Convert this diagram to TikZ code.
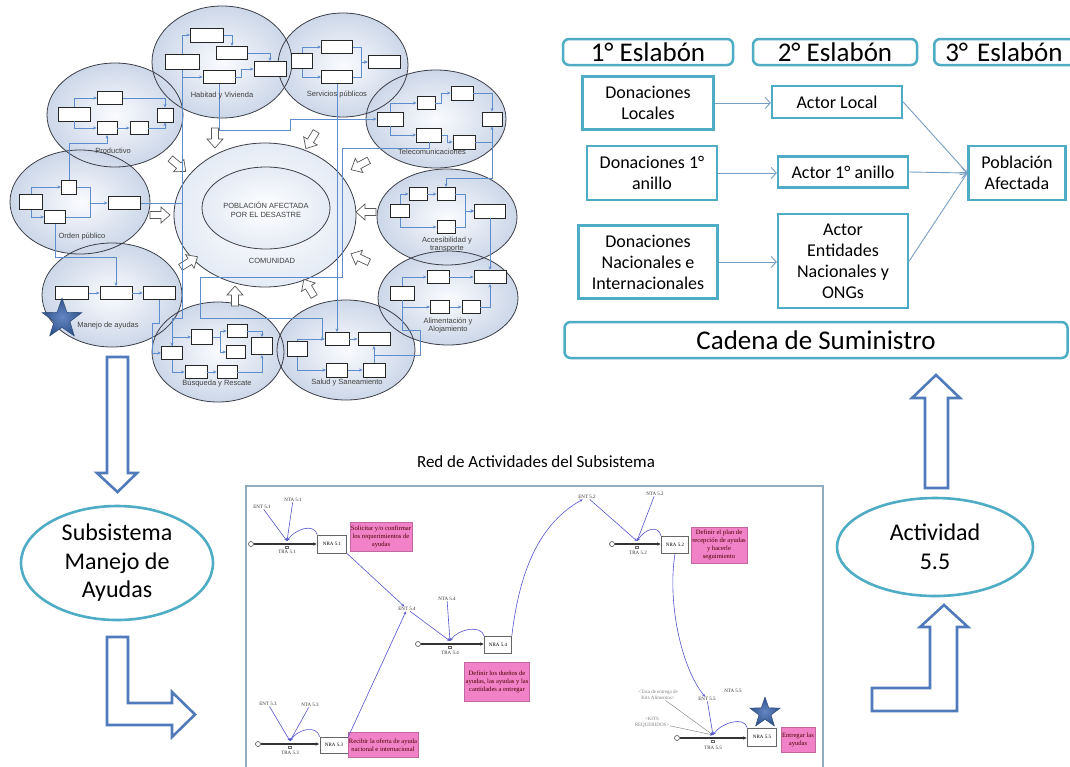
\documentclass[tikz,border=0pt]{standalone}
\usepackage{fontspec}
\setmainfont{Carlito}
\newfontfamily\arialf{Liberation Sans}
\newfontfamily\timesf{Liberation Serif}
\usetikzlibrary{shapes.geometric,arrows.meta,calc}

\definecolor{tealc}{RGB}{78,172,196}
\definecolor{blockc}{RGB}{80,122,186}
\definecolor{flowc}{RGB}{95,140,205}
\definecolor{ellin}{RGB}{250,251,254}
\definecolor{ellout}{RGB}{204,215,232}
\definecolor{ellrim}{RGB}{60,62,72}
\definecolor{scarr}{RGB}{120,158,195}
\definecolor{netblue}{RGB}{85,85,205}
\definecolor{pinkc}{RGB}{242,130,200}
\definecolor{framec}{RGB}{145,172,188}
\definecolor{starc}{RGB}{48,82,140}
\definecolor{starin}{RGB}{100,135,195}

\newcommand\fbx[5]{\node[fb, minimum width=#4pt, minimum height=#5pt] (#1) at (#2,#3) {};}
\newcommand\ellf[5]{\node[ellfill, minimum width=#4pt, minimum height=#5pt] (#1) at (#2,#3) {};}

\tikzset{
  ellfill/.style={ellipse, inner sep=0pt, outer sep=0pt, inner color=ellin, outer color=ellout},
  ellline/.style={draw=ellrim, line width=0.8pt},
  fb/.style={draw=black!85, fill=white, line width=0.9pt, inner sep=0pt},
  fl/.style={draw=flowc, line width=0.9pt, -{Stealth[length=3.5pt,width=3pt]}},
  fline/.style={draw=flowc, line width=0.9pt},
  elab/.style={font=\arialf\fontsize{7.5}{8.5}\selectfont, text=black!75, align=center, inner sep=0pt},
  harr/.pic={\draw[fill=white, draw=black!65, line width=0.7pt]
     (-10,-3.5) -- (1,-3.5) -- (1,-8) -- (10,0) -- (1,8) -- (1,3.5) -- (-10,3.5) -- cycle;},
  hdr/.style={draw=tealc, line width=2.5pt, rounded corners=6pt, fill=white, inner sep=0pt,
     minimum height=26pt, font=\fontsize{27}{30}\selectfont},
  sbox/.style={draw=tealc, line width=2.4pt, fill=white, inner sep=0pt, align=center,
     font=\fontsize{18}{21}\selectfont},
  sca/.style={draw=scarr, line width=0.9pt, -{Straight Barb[length=5pt,width=11pt]}},
  blk/.style={draw=blockc, line width=2.6pt, fill=white, line join=miter},
  bigell/.style={ellipse, draw=tealc, line width=2.6pt, inner sep=0pt, align=center,
     font=\fontsize{24}{28.5}\selectfont},
  ntxt/.style={font=\timesf\fontsize{5}{5.5}\selectfont, inner sep=0.5pt, text=black!80},
  gtxt/.style={font=\timesf\fontsize{5}{6}\selectfont, inner sep=0.5pt, text=black!50, align=center},
  nbox/.style={draw=black!60, fill=white, line width=0.6pt, inner sep=0pt,
     font=\timesf\fontsize{5}{5.5}\selectfont},
  pbox/.style={fill=pinkc, draw=pinkc!80!black, line width=0.3pt, align=center, inner sep=1pt,
     font=\timesf\fontsize{6.6}{8}\selectfont, text=black!70!red},
  nflow/.style={draw=black!80, line width=1.2pt, -{Latex[length=4pt,width=3.5pt]}},
  ninf/.style={draw=netblue, line width=0.6pt, -{Stealth[length=3pt,width=2.5pt]}},
  ginf/.style={draw=black!45, line width=0.5pt, -{Stealth[length=3pt,width=2.5pt,color=netblue]}},
  nsrc/.style={circle, draw=black!70, line width=0.6pt, inner sep=0pt, minimum size=5pt, fill=white},
  vglyph/.style={draw=black!60, line width=0.3pt, minimum width=3pt, minimum height=2pt, inner sep=0pt},
}

\begin{document}
\begin{tikzpicture}[x=1pt,y=-1pt]
\useasboundingbox (0,0) rectangle (1070,766);
\fill[white] (0,0) rectangle (1070,766);

% ---------------- subsystem cluster: ellipse fills ----------------
\node[ellipse, inner sep=0pt, inner color=white, outer color={rgb,255:red,228;green,235;blue,245},
      minimum width=182pt, minimum height=144pt] (eCom) at (265,215) {};
\node[ellipse, inner sep=0pt, inner color=white, outer color={rgb,255:red,228;green,235;blue,245},
      minimum width=128pt, minimum height=82pt] (ePob) at (266,208) {};
\ellf{ePro}{115}{115}{136}{104}
\ellf{eHab}{222}{62}{140}{112}
\ellf{eSer}{343}{65}{130}{104}
\ellf{eTel}{436}{119}{140}{98}
\ellf{eAcc}{447}{217}{140}{96}
\ellf{eAli}{448}{298}{140}{94}
\ellf{eSal}{346}{350}{138}{100}
\ellf{eBus}{218}{352}{132}{100}
\ellf{eMan}{112}{295}{140}{104}
\ellf{eOrd}{80}{202}{140}{104}

% ellipse outlines
\draw[ellline] (eCom.center) ellipse [x radius=91, y radius=72];
\draw[ellline] (ePob.center) ellipse [x radius=64, y radius=41];
\draw[ellline] (ePro.center) ellipse [x radius=68, y radius=52];
\draw[ellline] (eHab.center) ellipse [x radius=70, y radius=56];
\draw[ellline] (eSer.center) ellipse [x radius=65, y radius=52];
\draw[ellline] (eTel.center) ellipse [x radius=70, y radius=49];
\draw[ellline] (eAcc.center) ellipse [x radius=70, y radius=48];
\draw[ellline] (eAli.center) ellipse [x radius=70, y radius=47];
\draw[ellline] (eSal.center) ellipse [x radius=69, y radius=50];
\draw[ellline] (eBus.center) ellipse [x radius=66, y radius=50];
\draw[ellline] (eMan.center) ellipse [x radius=70, y radius=52];
\draw[ellline] (eOrd.center) ellipse [x radius=70, y radius=52];

% hollow arrows pointing into the community
\pic[rotate=-90] at (215,138) {harr};
\pic[rotate=-40] at (178,165) {harr};
\pic[rotate=-121] at (311,140) {harr};
\pic[rotate=-152] at (360,165) {harr};
\pic[rotate=180] at (366,212) {harr};
\pic[rotate=155] at (360,258) {harr};
\pic[rotate=121] at (309,288) {harr};
\pic[rotate=90] at (235,296) {harr};
\pic[rotate=32] at (189,262) {harr};
\pic[rotate=0] at (160,215) {harr};

% ---------------- activity boxes ----------------
% Productivo
\fbx{P1}{74}{114}{32}{14} \fbx{P2}{110}{98}{25}{13} \fbx{P3}{107}{128}{20}{13}
\fbx{P4}{139}{128}{18}{13} \fbx{P5}{165}{115}{16}{14}
% Habitad y Vivienda
\fbx{H1}{182}{62}{34}{15} \fbx{H2}{207}{35}{33}{14} \fbx{H3}{232}{53}{31}{13}
\fbx{H4}{219}{77}{32}{13} \fbx{H5}{270}{69}{32}{15}
% Servicios publicos
\fbx{S1}{302}{61}{21}{15} \fbx{S2}{337}{47}{31}{13} \fbx{S3}{337}{77}{31}{13}
\fbx{S4}{384}{62}{32}{13}
% Telecomunicaciones
\fbx{T1}{390}{119}{26}{14} \fbx{T2}{426}{103}{18}{13} \fbx{T3}{462}{93}{22}{14}
\fbx{T4}{429}{135}{25}{14} \fbx{T5}{464}{142}{22}{14} \fbx{T6}{492}{119}{20}{14}
% Accesibilidad y transporte
\fbx{A1}{400}{211}{19}{13} \fbx{A2}{418}{194}{18}{13} \fbx{A3}{446}{194}{18}{13}
\fbx{A4}{446}{227}{18}{13} \fbx{A5}{490}{211}{31}{14}
% Alimentacion y Alojamiento
\fbx{L1}{402}{293}{24}{14} \fbx{L2}{438}{277}{22}{13} \fbx{L3}{490}{277}{32}{13}
\fbx{L4}{440}{307}{19}{13} \fbx{L5}{471}{307}{18}{13}
% Salud y Saneamiento
\fbx{Sa1}{297}{349}{20}{15} \fbx{Sa2}{337}{339}{24}{13} \fbx{Sa3}{374}{339}{32}{13}
\fbx{Sa4}{337}{370}{21}{14} \fbx{Sa5}{374}{370}{22}{14}
% Busqueda y Rescate
\fbx{B1}{172}{353}{21}{13} \fbx{B2}{202}{337}{21}{15} \fbx{B3}{237}{331}{20}{13}
\fbx{B4}{236}{352}{19}{13} \fbx{B5}{262}{346}{21}{17} \fbx{B6}{196}{372}{22}{13}
\fbx{B7}{227}{372}{20}{13}
% Manejo de ayudas
\fbx{M1}{72}{293}{33}{13} \fbx{M2}{116}{293}{32}{13} \fbx{M3}{159}{293}{32}{13}
% Orden publico
\fbx{O1}{31}{202}{23}{15} \fbx{O2}{69}{187}{15}{14} \fbx{O3}{55}{217}{21}{13}
\fbx{O4}{124}{203}{32}{13}

% bend points of the long links
\coordinate (r1a) at (429,148);
\coordinate (r1b) at (342,277);
\coordinate (r1c) at (200,318);
\coordinate (r1d) at (322,339);
\coordinate (hb) at (182,318);
\coordinate (ta) at (492,142);
\coordinate (tb) at (492,178);
\coordinate (sl) at (374,355);
\coordinate (sl2) at (420,330);
\coordinate (op) at (69,143);
\coordinate (om) at (55,257);
\coordinate (mb) at (152,323);
\coordinate (ht1) at (290,130);
\coordinate (oj) at (90,203);

% links inside each subsystem
\draw[fl] (P1.north) |- (P2.west);
\draw[fl] (P1.south) |- (P3.west);
\draw[fl] (P2.east) -| (P5.north);
\draw[fl] (P3.east) -- (P4.west);
\draw[fl] (P4.east) -| (P5.south);

\draw[fl] (H1.north) |- (H2.west);
\draw[fl] (H1.south) |- (H4.west);
\draw[fl] (H2.east) -| (H3.north);
\draw[fl] (H3.east) -| (H5.north);
\draw[fl] (H4.east) -- ++(6,0) |- (H5.west);

\draw[fl] (S1.north) |- (S2.west);
\draw[fl] (S1.south) |- (S3.west);
\draw[fl] (S2.east) -- ++(8,0) |- (S4.west);
\draw[fl] (S3.east) -- ++(8,0) |- (S4.west);

\draw[fl] (T1.north) |- (T2.west);
\draw[fl] (T1.south) |- (T4.west);
\draw[fl] (T2.east) -- ++(6,0) |- (T3.west);
\draw[fl] (T3.east) -| (T6.north);
\draw[fl] (T4.east) -- ++(5,0) |- (T5.west);
\draw[fl] (T5.east) -| (T6.south);

\draw[fl] (A1.north) |- (A2.west);
\draw[fl] (A2.east) -- (A3.west);
\draw[fl] (A1.south) |- (A4.west);
\draw[fl] (A3.east) -- ++(10,0) |- (A5.west);
\draw[fl] (A4.east) -- ++(10,0) |- (A5.west);

\draw[fl] (L1.north) |- (L2.west);
\draw[fl] (L2.east) -- (L3.west);
\draw[fl] (L1.south) |- (L4.west);
\draw[fl] (L4.east) -- (L5.west);
\draw[fl] (L5.east) -| (L3.south);

\draw[fl] (Sa1.north) |- (Sa2.west);
\draw[fl] (Sa1.south) |- (Sa4.west);
\draw[fl] (Sa2.east) -- (Sa3.west);
\draw[fl] (Sa4.east) -- (Sa5.west);
\draw[fl] (Sa5.north) -- (Sa3.south);

\draw[fl] (B1.north) |- (B2.west);
\draw[fl] (B1.south) |- (B6.west);
\draw[fl] (B2.east) -- ++(7,0) |- (B3.west);
\draw[fl] (B2.east) -- ++(7,0) |- (B4.west);
\draw[fl] (B3.east) -| (B5.north);
\draw[fl] (B6.east) -- (B7.west);
\draw[fl] (B7.east) -| (B5.south);

\draw[fl] (M1.east) -- (M2.west);
\draw[fl] (M2.east) -- (M3.west);

\draw[fl] (O1.north) |- (O2.west);
\draw[fl] (O1.south) |- (O3.west);
\draw[fline] (O2.east) -| (oj);
\draw[fl] (O3.east) -| (oj) -- (O4.west);

% links between subsystems
\draw[fl] (S3.south) -- (Sa2.north);
\draw[fl] (T4.south) -- (r1a) -| (r1b) -| (r1c) -| (r1d) -- (Sa2.west);
\draw[fl] (H1.south) -- (hb) -| (B1.north);
\draw[fl] (H4.south) |- (ht1) |- (T1.west);
\draw[fl] (ta) -- (tb) -| (A3.north);
\draw[fl] (A5.south) -- (L3.north);
\draw[fline] (sl) -| (sl2) -| (L1.south);
\draw[fl] (O2.north) -- (op) -| (P3.south);
\draw[fl] (O3.south) -- (om) -| (M2.north);
\draw[fl] (M3.south) |- (mb) |- (B1.west);
\draw[fline] (O4.east) -- (O4.east -| H1.south);

% redraw boxes crossed by long links
\fbx{H1x}{182}{62}{34}{15}
\fbx{O4x}{124}{203}{32}{13}

% labels of the cluster
\node[elab] (lCom) at (266,210) {POBLACIÓN AFECTADA\\POR EL DESASTRE};
\node[elab] (lCom2) at (272,261) {COMUNIDAD};
\node[elab] (lPro) at (113,151) {Productivo};
\node[elab] (lHab) at (222,96) {Habitad y Vivienda};
\node[elab] (lSer) at (337,95) {Servicios públicos};
\node[elab] (lTel) at (432,152) {Telecomunicaciones};
\node[elab] (lAcc) at (447,244.5) {Accesibilidad y\\transporte};
\node[elab] (lAli) at (448,325.5) {Alimentación y\\Alojamiento};
\node[elab] (lSal) at (347,383) {Salud y Saneamiento};
\node[elab] (lBus) at (217,384) {Búsqueda y Rescate};
\node[elab] (lMan) at (108,326) {Manejo de ayudas};
\node[elab] (lOrd) at (82,237) {Orden público};

\node[star, star points=5, star point ratio=2.5, inner color=starin, outer color=starc,
      draw=starc!80!black, line width=0.4pt, minimum size=42pt, inner sep=0pt] (st1) at (62,319) {};

% ---------------- supply chain ----------------
\node[hdr, minimum width=170pt] (e1) at (648,52) {1° Eslabón};
\node[hdr, minimum width=164pt] (e2) at (835,52) {2° Eslabón};
\node[hdr, anchor=west, text width=128pt, align=left, inner xsep=11pt] (e3) at (933,52) {3° Eslabón};

\node[sbox, minimum width=131pt, minimum height=53pt] (d1) at (648,103) {Donaciones\\Locales};
\node[sbox, minimum width=130pt, minimum height=32pt] (a1) at (837,102) {Actor Local};
\node[sbox, minimum width=130pt, minimum height=54pt] (d2) at (652,173) {Donaciones 1°\\anillo};
\node[sbox, minimum width=130pt, minimum height=31pt] (a2) at (843,172) {Actor 1° anillo};
\node[sbox, minimum width=139pt, minimum height=73pt] (d3) at (648,262) {Donaciones\\Nacionales e\\Internacionales};
\node[sbox, minimum width=130pt, minimum height=94pt] (a3) at (843,261) {Actor\\Entidades\\Nacionales y\\ONGs};
\node[sbox, minimum width=97pt, minimum height=54pt] (pa) at (1017,173) {Población\\Afectada};
\node[hdr, minimum width=503pt, minimum height=36pt] (cs) at (816,340) {Cadena de Suministro};

\draw[sca] (d1.east) -- (a1.west |- d1.east);
\draw[sca] (d2.east) -- (a2.west |- d2.east);
\draw[sca] (d3.east) -- (a3.west |- d3.east);
\draw[sca] (a1.east) -- (pa.west);
\draw[sca] (a2.east) -- (pa.west);
\draw[sca] (a3.east) -- (pa.west);

% ---------------- block arrows and summary ellipses ----------------
\draw[blk] (107,357) -- (128,357) -- (128,473) -- (137,473) -- (117.5,492) -- (97,473) -- (107,473) -- cycle;
\node[bigell, minimum width=192pt, minimum height=114pt] (sub) at (117,563) {Subsistema\\Manejo de\\Ayudas};
\draw[blk] (107,637) -- (128,637) -- (128,703) -- (172,703) -- (172,692) -- (195,714.5) -- (172,737) -- (172,725) -- (107,725) -- cycle;

\draw[blk] (925,488) -- (925,398) -- (912,398) -- (936,375) -- (960,398) -- (948,398) -- (948,488) -- cycle;
\node[bigell, minimum width=196pt, minimum height=98pt] (act) at (935,547) {Actividad\\5.5};
\draw[blk] (872,688) -- (930,688) -- (930,627) -- (920,627) -- (944,605) -- (968,627) -- (957,627) -- (957,711) -- (872,711) -- cycle;

% ---------------- activity network ----------------
\node[font=\fontsize{17}{20}\selectfont, inner sep=0pt] (ttl) at (536,462) {Red de Actividades del Subsistema};
\node[draw=framec, line width=1.5pt, anchor=north west, minimum width=577pt, minimum height=295pt, inner sep=0pt] (frame) at (245,485) {};

% activity 5.1
\node[nsrc] (c1) at (251,544) {};
\node[nbox, minimum width=29pt, minimum height=18pt] (n1) at (332,544) {NRA 5.1};
\draw[nflow] (c1) -- (n1);
\coordinate (v1) at (287,541);
\node[vglyph] (g1) at (287,547) {};
\node[ntxt] (tra1) at (287,552) {TRA 5.1};
\node[ntxt] (ent1) at (262,507) {ENT 5.1};
\node[ntxt] (nta1) at (293,500) {NTA 5.1};
\draw[ninf] (ent1) -- (v1);
\draw[ninf] (nta1) -- (v1);
\draw[ninf] (n1.north west) .. controls +(-3,-12) and +(8,-12) .. (v1);
\node[pbox, minimum width=57pt, minimum height=29pt] (p1) at (381,537) {Solicitar y/o confirmar\\los requerimientos de\\ayudas};

% activity 5.2
\node[nsrc] (c2) at (612,544) {};
\node[nbox, minimum width=27pt, minimum height=17pt] (n2) at (675,545) {NRA 5.2};
\draw[nflow] (c2) -- (n2.west |- c2);
\coordinate (v2) at (637,541);
\node[vglyph] (g2) at (637,547) {};
\node[ntxt] (tra2) at (638,553) {TRA 5.2};
\node[ntxt] (ent2) at (587,497) {ENT 5.2};
\node[ntxt] (nta2) at (655,494) {NTA 5.2};
\draw[ninf] (ent2) -- (v2);
\draw[ninf] (nta2) -- (v2);
\draw[ninf] (n2.north west) .. controls +(-3,-12) and +(8,-12) .. (v2);
\node[pbox, minimum width=52pt, minimum height=36pt] (p2) at (719,545) {Definir el plan de\\recepción de ayudas\\y hacerle\\seguimiento};

% activity 5.3
\node[nsrc] (c3) at (258,744) {};
\node[nbox, minimum width=28pt, minimum height=16pt] (n3) at (334,745) {NRA 5.3};
\draw[nflow] (c3) -- (n3.west |- c3);
\coordinate (v3) at (290,741);
\node[vglyph] (g3) at (290,747) {};
\node[ntxt] (tra3) at (290,753) {TRA 5.3};
\node[ntxt] (ent3) at (268,704) {ENT 5.3};
\node[ntxt] (nta3) at (310,705) {NTA 5.3};
\draw[ninf] (ent3) -- (v3);
\draw[ninf] (nta3) -- (v3);
\draw[ninf] (n3.north west) .. controls +(-3,-12) and +(8,-12) .. (v3);
\node[pbox, minimum width=65pt, minimum height=25pt] (p3) at (383,745) {Recibir la oferta de ayuda\\nacional e internacional};

% activity 5.4
\node[nsrc] (c4) at (418,644) {};
\node[nbox, minimum width=27pt, minimum height=17pt] (n4) at (498,645) {NRA 5.4};
\draw[nflow] (c4) -- (n4.west |- c4);
\coordinate (v4) at (450,641);
\node[vglyph] (g4) at (450,647) {};
\node[ntxt] (tra4) at (450,653) {TRA 5.4};
\node[ntxt] (ent4) at (407,609) {ENT 5.4};
\node[ntxt] (nta4) at (447,599) {NTA 5.4};
\draw[ninf] (ent4) -- (v4);
\draw[ninf] (nta4) -- (v4);
\draw[ninf] (n4.north west) .. controls +(-3,-12) and +(8,-12) .. (v4);
\node[pbox, minimum width=61pt, minimum height=39pt] (p4) at (497,682) {Definir los dueños de\\ayudas, las ayudas y las\\cantidades a entregar};

% activity 5.5
\node[nsrc] (c5) at (677,738) {};
\node[nbox, minimum width=29pt, minimum height=18pt] (n5) at (762,737) {NRA 5.5};
\draw[nflow] (c5) -- (n5.west |- c5);
\coordinate (v5) at (713,735);
\node[vglyph] (g5) at (713,741) {};
\node[ntxt] (tra5) at (713,748) {TRA 5.5};
\node[ntxt] (ent5) at (707,699) {ENT 5.5};
\node[ntxt] (nta5) at (733,691) {NTA 5.5};
\node[gtxt] (kt) at (658,695) {<Tasa de entrega de\\Kits Alimentos>};
\node[gtxt] (kr) at (652,722) {<KITS\\REQUERIDOS>};
\draw[ninf] (ent5) -- (v5);
\draw[ginf] (kt) -- (v5);
\draw[ginf] (kr) -- (v5);
\draw[ninf] (n5.north west) .. controls +(-3,-12) and +(8,-12) .. (v5);
\node[pbox, minimum width=33pt, minimum height=25pt] (p5) at (798,740) {Entregar las\\ayudas};
\node[star, star points=5, star point ratio=2.5, inner color=starin, outer color=starc,
      draw=starc!80!black, line width=0.4pt, minimum size=32pt, inner sep=0pt] (st2) at (765,713) {};

% links between activities
\draw[ninf] (n1.south east) -- (ent4);
\draw[ninf] (n3.north east) -- (ent4);
\draw[ninf] (n4.north east) .. controls +(8,-70) and +(-45,25) .. (ent2);
\draw[ninf] (n2.south) .. controls +(-8,50) and +(-25,-30) .. (ent5);

\end{tikzpicture}
\end{document}
